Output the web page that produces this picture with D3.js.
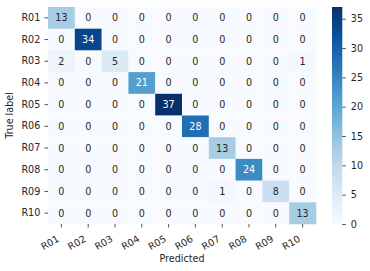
<!DOCTYPE html>
<html><head><meta charset="utf-8">
<script src="https://cdn.jsdelivr.net/npm/d3@7"></script>
<style>body{margin:0;background:#fff;} svg{display:block;font-family:"DejaVu Sans",sans-serif;}</style>
</head><body>
<svg id="c" width="370" height="271"></svg>
<script>
const labels = ["R01","R02","R03","R04","R05","R06","R07","R08","R09","R10"];
const matrix = [
 [13,0,0,0,0,0,0,0,0,0],
 [0,34,0,0,0,0,0,0,0,0],
 [2,0,5,0,0,0,0,0,0,1],
 [0,0,0,21,0,0,0,0,0,0],
 [0,0,0,0,37,0,0,0,0,0],
 [0,0,0,0,0,28,0,0,0,0],
 [0,0,0,0,0,0,13,0,0,0],
 [0,0,0,0,0,0,0,24,0,0],
 [0,0,0,0,0,0,1,0,8,0],
 [0,0,0,0,0,0,0,0,0,13]
];
const cbTicks = [0,5,10,15,20,25,30,35];
const blues = ["#f7fbff","#deebf7","#c6dbef","#9ecae1","#6baed6","#4292c6","#2171b5","#08519c","#08306b"];

const FS = 9.6;
const svg = d3.select("#c");
const L=48, R=316, T=7, B=224;
const x = d3.scaleBand().domain(labels).range([L,R]);
const y = d3.scaleBand().domain(labels).range([T,B]);
const vmax = 37;
const color = d3.scaleLinear().domain(blues.map((_,i)=>i/(blues.length-1)*vmax)).range(blues).clamp(true);
const textCol = "#262626";

function lum(c){
  const r=d3.rgb(c);
  const f=v=>{v/=255;return v<=0.03928?v/12.92:Math.pow((v+0.055)/1.055,2.4);};
  return 0.2126*f(r.r)+0.7152*f(r.g)+0.0722*f(r.b);
}

const cells=[];
matrix.forEach((row,i)=>row.forEach((v,j)=>cells.push({r:labels[i],c:labels[j],v})));
svg.append("g").selectAll("rect").data(cells).join("rect")
  .attr("x",d=>x(d.c)).attr("y",d=>y(d.r))
  .attr("width",x.bandwidth()+0.3).attr("height",y.bandwidth()+0.3)
  .attr("fill",d=>color(d.v));
svg.append("g").selectAll("text").data(cells).join("text")
  .attr("x",d=>x(d.c)+x.bandwidth()/2).attr("y",d=>y(d.r)+y.bandwidth()/2)
  .attr("text-anchor","middle").attr("dominant-baseline","central")
  .attr("font-size",FS)
  .attr("fill",d=>lum(color(d.v))>0.408?textCol:"#ffffff")
  .text(d=>d.v);

// y axis
const ya = svg.append("g").attr("transform",`translate(${L},0)`)
  .call(d3.axisLeft(y).tickSize(3.5).tickPadding(4.2));
ya.select(".domain").remove();
ya.selectAll("line").attr("stroke",textCol).attr("stroke-width",0.8);
ya.selectAll("text").attr("font-size",FS).attr("fill",textCol).attr("font-family","DejaVu Sans");

// x axis
const xa = svg.append("g").attr("transform",`translate(0,${B})`)
  .call(d3.axisBottom(x).tickSize(3.5));
xa.select(".domain").remove();
xa.selectAll("line").attr("stroke",textCol).attr("stroke-width",0.8);
xa.selectAll("text").attr("font-size",FS).attr("fill",textCol).attr("font-family","DejaVu Sans")
  .attr("text-anchor","end").attr("x",0).attr("y",0).attr("dy",0)
  .attr("transform","translate(-1.5,16.8) rotate(-30)");

svg.append("text").attr("x",(L+R)/2).attr("y",262).attr("text-anchor","middle")
  .attr("font-size",FS).attr("fill",textCol).text("Predicted");
svg.append("text").attr("transform",`translate(13.3,${(T+B)/2}) rotate(-90)`).attr("text-anchor","middle")
  .attr("font-size",FS).attr("fill",textCol).text("True label");

// colorbar
const cbX=332, cbW=10.3;
const cy = d3.scaleLinear().domain([0,vmax]).range([B,T]);
const defs = svg.append("defs");
const grad = defs.append("linearGradient").attr("id","g").attr("x1",0).attr("y1",1).attr("x2",0).attr("y2",0);
d3.range(0,1.0001,0.05).forEach(t=>grad.append("stop").attr("offset",t).attr("stop-color",color(t*vmax)));
svg.append("rect").attr("x",cbX).attr("y",T).attr("width",cbW).attr("height",B-T).attr("fill","url(#g)");
const ca = svg.append("g").attr("transform",`translate(${cbX+cbW},0)`)
  .call(d3.axisRight(cy).tickValues(cbTicks).tickSize(3.5).tickPadding(5));
ca.select(".domain").remove();
ca.selectAll("line").attr("stroke",textCol).attr("stroke-width",0.8);
ca.selectAll("text").attr("font-size",FS).attr("fill",textCol).attr("font-family","DejaVu Sans");
</script>
</body></html>
